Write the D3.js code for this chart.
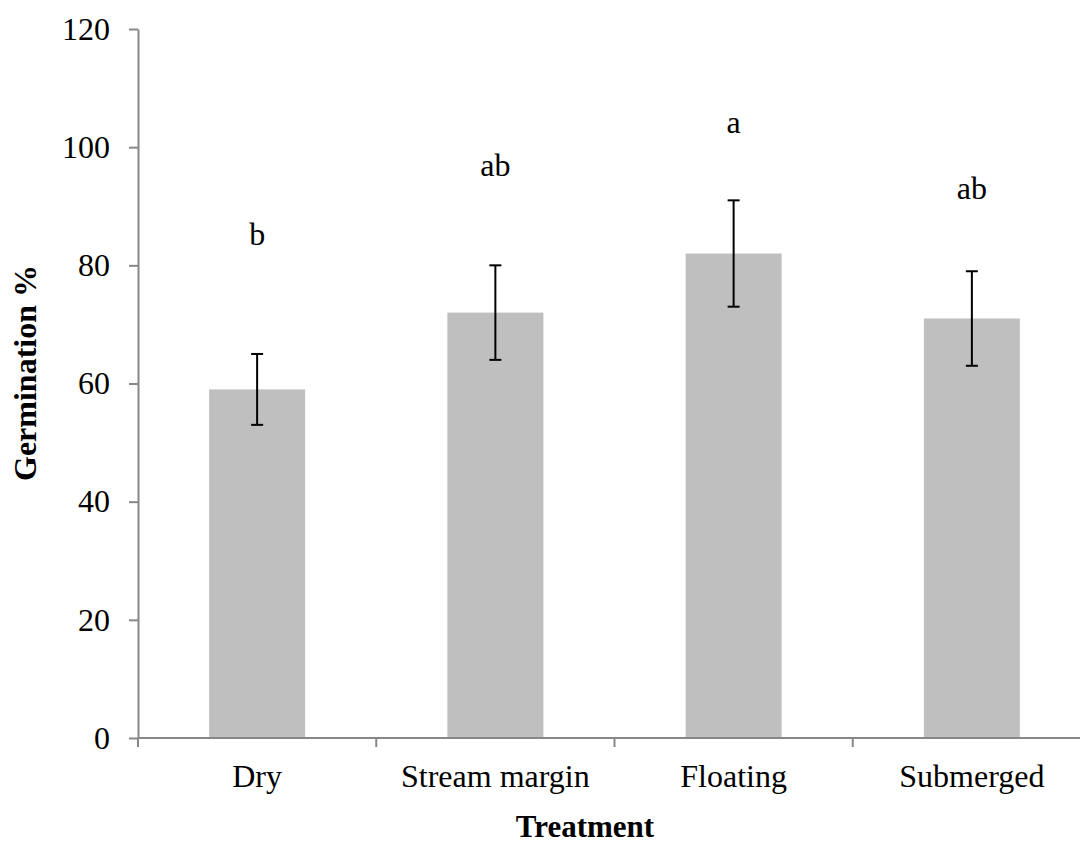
<!DOCTYPE html>
<html>
<head>
<meta charset="utf-8">
<script src="https://cdn.jsdelivr.net/npm/d3@7"></script>
<style>
  html, body { margin: 0; padding: 0; background: #fff; }
  svg { display: block; }
  text { font-family: "Liberation Serif", "Times New Roman", serif; fill: #000; }
</style>
</head>
<body>
<svg id="chart" width="1080" height="844"></svg>
<script>
// Germination percentage per treatment, with error bar bounds and significance letters
const categories = ["Dry", "Stream margin", "Floating", "Submerged"];
const germination = [59, 72, 82, 71];
const errLow = [53, 64, 73, 63];
const errHigh = [65, 80, 91, 79];
const letters = ["b", "ab", "a", "ab"];
const letterLevel = [83.4, 95.1, 102.4, 91.2];
const yTicks = [0, 20, 40, 60, 80, 100, 120];

const svg = d3.select("#chart");
const plotLeft = 138, plotRight = 1091, plotTop = 29, plotBottom = 738;
const pad = 0.597;

const x = d3.scaleBand()
  .domain(categories)
  .range([plotLeft, plotRight])
  .paddingInner(pad)
  .paddingOuter(pad / 2);

const y = d3.scaleLinear().domain([0, 120]).range([plotBottom, plotTop]);

const axisColor = "#878787";

// Bars
svg.append("g").selectAll("rect")
  .data(categories)
  .join("rect")
  .attr("x", d => x(d))
  .attr("y", (d, i) => y(germination[i]))
  .attr("width", x.bandwidth())
  .attr("height", (d, i) => y(0) - y(germination[i]))
  .attr("fill", "#bfbfbf");

// Y axis
const yAxis = svg.append("g")
  .attr("transform", `translate(${plotLeft},0)`)
  .call(d3.axisLeft(y).tickValues(yTicks).tickSize(9).tickSizeOuter(0).tickPadding(19));
yAxis.select(".domain").attr("stroke", axisColor).attr("stroke-width", 2);
yAxis.selectAll(".tick line").attr("stroke", axisColor).attr("stroke-width", 2);
yAxis.selectAll(".tick text")
  .attr("font-family", "Liberation Serif, Times New Roman, serif")
  .attr("font-size", 32)
  .attr("fill", "#000");

// X axis: ticks sit on category boundaries, labels at band centres
const boundaries = categories.map(d => x(d) - x.step() * pad / 2).concat([plotRight]);
const xAxis = svg.append("g");
xAxis.append("line")
  .attr("x1", plotLeft).attr("x2", plotRight)
  .attr("y1", y(0)).attr("y2", y(0))
  .attr("stroke", axisColor).attr("stroke-width", 2);
xAxis.selectAll("line.tick")
  .data(boundaries)
  .join("line")
  .attr("class", "tick")
  .attr("x1", d => d).attr("x2", d => d)
  .attr("y1", y(0)).attr("y2", y(0) + 9)
  .attr("stroke", axisColor).attr("stroke-width", 2);
xAxis.selectAll("text")
  .data(categories)
  .join("text")
  .attr("x", d => x(d) + x.bandwidth() / 2)
  .attr("y", 787)
  .attr("text-anchor", "middle")
  .attr("font-size", 32)
  .text(d => d);

// Error bars
const caps = 6;
const eb = svg.append("g").attr("stroke", "#000").attr("stroke-width", 2);
categories.forEach((c, i) => {
  const cx = x(c) + x.bandwidth() / 2;
  eb.append("line").attr("x1", cx).attr("x2", cx)
    .attr("y1", y(errLow[i])).attr("y2", y(errHigh[i]));
  eb.append("line").attr("x1", cx - caps).attr("x2", cx + caps)
    .attr("y1", y(errLow[i])).attr("y2", y(errLow[i]));
  eb.append("line").attr("x1", cx - caps).attr("x2", cx + caps)
    .attr("y1", y(errHigh[i])).attr("y2", y(errHigh[i]));
});

// Significance letters
svg.append("g").selectAll("text")
  .data(categories)
  .join("text")
  .attr("x", d => x(d) + x.bandwidth() / 2)
  .attr("y", (d, i) => y(letterLevel[i]))
  .attr("text-anchor", "middle")
  .attr("font-size", 32)
  .text((d, i) => letters[i]);

// Axis titles
svg.append("text")
  .attr("x", 585).attr("y", 837)
  .attr("text-anchor", "middle")
  .attr("font-size", 31)
  .attr("font-weight", "bold")
  .text("Treatment");

svg.append("text")
  .attr("transform", "translate(36,373) rotate(-90)")
  .attr("text-anchor", "middle")
  .attr("font-size", 32)
  .attr("font-weight", "bold")
  .text("Germination %");
</script>
</body>
</html>
